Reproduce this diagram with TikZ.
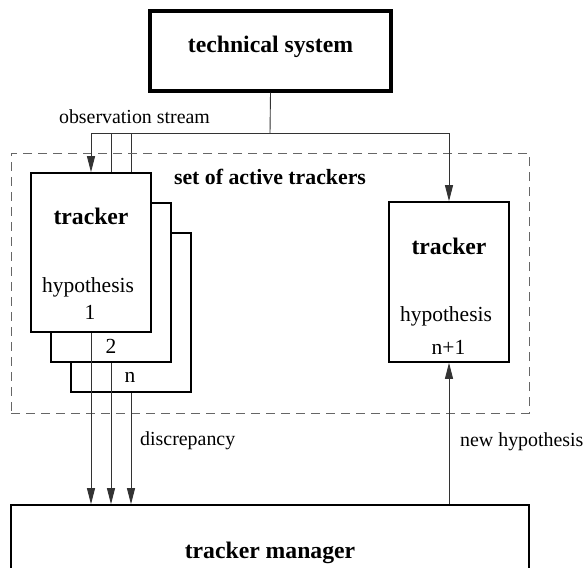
\documentclass[tikz,border=0pt]{standalone}
\usepackage{fontspec}
\setmainfont{Liberation Serif}
\usetikzlibrary{arrows.meta}
\pgfdeclarelayer{bg}
\pgfsetlayers{bg,main}
\begin{document}
\begin{tikzpicture}[x=1pt,y=-1pt,
  box/.style={draw=black, line width=1.6pt, fill=white, inner sep=0pt},
  trk/.style={box, minimum width=120pt, minimum height=159pt},
  conn/.style={draw=black!80, line width=0.9pt},
  tip/.style={-{Triangle[length=16pt,width=8pt]}},
  bold/.style={font=\rmfamily\fontsize{23.7}{26}\selectfont\bfseries, inner sep=0pt},
  txt/.style={font=\rmfamily\fontsize{21.5}{24}\selectfont, inner sep=0pt},
  lbl/.style={font=\rmfamily\fontsize{19.9}{22}\selectfont, inner sep=0pt}]
\useasboundingbox (0,0) rectangle (583,567);
\clip (0,0) rectangle (583,567);

% dashed container
\node[draw=black!60, line width=1pt, dash pattern=on 9pt off 6pt,
      minimum width=518pt, minimum height=260pt, inner sep=0pt] (set) at (270,283) {};
\node[font=\rmfamily\fontsize{21.8}{24}\selectfont\bfseries, inner sep=0pt] (settxt) at (270,177) {set of active trackers};

% technical system
\node[box, line width=3.5pt, minimum width=241pt, minimum height=80pt] (tech) at (270.5,51) {};
\node[bold] (techtxt) at (270.5,47) {technical system};

% trackers (back to front)
\node[trk] (tn) at (131,312.5) {};
\node[txt] (ntxt) at (130,377) {n};
\node[trk] (t2) at (111,282.5) {};
\node[txt] (twotxt) at (111,346) {2};
\node[trk] (t1) at (91,252.5) {};
\node[bold] (t1a) at (91,216) {tracker};
\node[txt] (t1b) at (88,287) {hypothesis};
\node[txt] (t1c) at (90,312) {1};

\node[trk, minimum height=160pt] (tr) at (449,282) {};
\node[bold] (tra) at (449,246) {tracker};
\node[txt] (trb) at (446,316) {hypothesis};
\node[txt] (trc) at (448.5,347) {n+1};

% tracker manager
\node[box, minimum width=518pt, minimum height=120pt] (mgr) at (270,565) {};
\node[bold] (mgrtxt) at (270,553) {tracker manager};

% observation stream
\coordinate (j) at (270,133);
\draw[conn] (tech.south) -- (j);
\draw[conn] (t1.north |- j) -- (tr.north |- j);
\draw[conn,tip] (t1.north |- j) -- (t1.north);
\begin{pgfonlayer}{bg}
\draw[conn] (t2.north |- j) -- (t2.north);
\draw[conn] (tn.north |- j) -- (tn.north);
\end{pgfonlayer}
\draw[conn,tip] (tr.north |- j) -- (tr.north);
\node[lbl] (obs) at (134.5,117) {observation stream};

% discrepancy
\draw[conn,tip] (t1.south) -- (t1.south |- mgr.north);
\draw[conn,tip] (t2.south) -- (t2.south |- mgr.north);
\draw[conn,tip] (tn.south) -- (tn.south |- mgr.north);
\node[lbl, anchor=west] (disc) at (140,441) {discrepancy};

% new hypothesis
\draw[conn,tip] (tr.south |- mgr.north) -- (tr.south);
\node[lbl, anchor=west] (newh) at (460,442) {new hypothesis};
\end{tikzpicture}
\end{document}
